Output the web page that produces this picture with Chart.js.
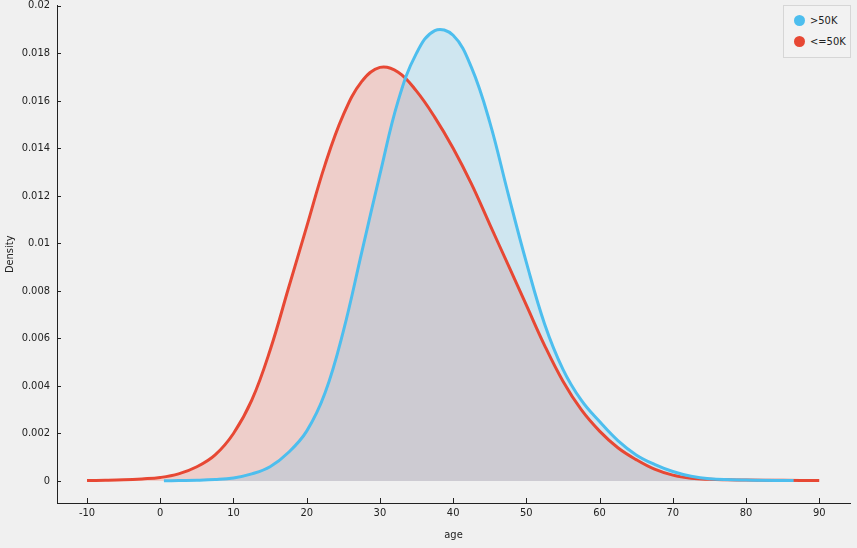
<!DOCTYPE html>
<html>
<head>
<meta charset="utf-8">
<script src="https://cdn.jsdelivr.net/npm/chart.js@4.4.1/dist/chart.umd.min.js"></script>
<style>
  body { margin: 0; background: #f0f0f0; font-family: "DejaVu Sans Condensed", "DejaVu Sans", sans-serif; }
  #wrap { position: relative; width: 857px; height: 548px; overflow: hidden; }
  #box { position: absolute; left: 0; top: -8px; width: 857px; height: 556px; }
  #legend {
    position: absolute; left: 783px; top: 5px; width: 66px; height: 51px;
    border: 1px solid #d6d6d6; background: #f2f2f2; font-size: 11px; color: #222;
  }
  .item { position: absolute; left: 10px; display: flex; align-items: center; }
  .dot { width: 11px; height: 11px; border-radius: 50%; margin-right: 5px; }
</style>
</head>
<body>
<div id="wrap">
  <div id="box"><canvas id="chart"></canvas></div>
  <div id="legend"></div>
</div>
<script>
// --- dados ---
const seriesNames = ['>50K', '<=50K'];

const blueAges = [0.5, 2.5, 5, 7.5, 10, 12.5, 15, 17.5, 20, 22.5, 25, 27.5, 30, 32.5, 35, 37.5, 40, 42.5, 45, 47.5, 50, 52.5, 55, 57.5, 60, 62.5, 65, 67.5, 70, 72.5, 75, 80, 86.5];
const blueDensity = [0.00001, 0.00002, 0.00003, 0.00006, 0.00013, 0.0003, 0.0006, 0.0012, 0.0021, 0.0037, 0.0063, 0.0096, 0.0129, 0.0160, 0.0180, 0.01895, 0.01875, 0.0174, 0.0151, 0.0121, 0.0092, 0.0066, 0.0047, 0.0034, 0.0025, 0.0017, 0.0011, 0.0007, 0.0004, 0.0002, 0.0001, 0.00004, 0.00002];

const redAges = [-10, -7.5, -5, -2.5, 0, 2.5, 5, 7.5, 10, 12.5, 15, 17.5, 20, 22.5, 25, 27.5, 30, 32.5, 35, 37.5, 40, 42.5, 45, 47.5, 50, 52.5, 55, 57.5, 60, 62.5, 65, 67.5, 70, 72.5, 75, 77.5, 80, 85, 90];
const redDensity = [0.00002, 0.00003, 0.00005, 0.00009, 0.00015, 0.0003, 0.0006, 0.0011, 0.0020, 0.0034, 0.0055, 0.0081, 0.0107, 0.0133, 0.0154, 0.0168, 0.0174, 0.0172, 0.0164, 0.0153, 0.0140, 0.0125, 0.0108, 0.0091, 0.0074, 0.0057, 0.0042, 0.0030, 0.0021, 0.0014, 0.0009, 0.0005, 0.00025, 0.00012, 0.00007, 0.00005, 0.00004, 0.00003, 0.00002];

const xTicks = [-10, 0, 10, 20, 30, 40, 50, 60, 70, 80, 90];
const yTicks = [0, 0.002, 0.004, 0.006, 0.008, 0.01, 0.012, 0.014, 0.016, 0.018, 0.02];

const colors = ['rgb(77,190,238)', 'rgb(231,72,52)'];
const fills = ['rgba(77,190,238,0.2)', 'rgba(231,72,52,0.2)'];

const pares = (xs, ys) => xs.map((x, i) => ({ x: x, y: ys[i] }));

// marcas dos eixos para dentro
const tickPlugin = {
  id: 'innerTicks',
  afterDraw(chart) {
    const { ctx, scales: { x, y }, chartArea } = chart;
    ctx.save();
    ctx.strokeStyle = '#222';
    ctx.lineWidth = 1;
    ctx.beginPath();
    x.ticks.forEach(t => {
      const px = Math.round(x.getPixelForValue(t.value)) + 0.5;
      ctx.moveTo(px, chartArea.bottom);
      ctx.lineTo(px, chartArea.bottom - 5);
    });
    y.ticks.forEach(t => {
      const py = Math.round(y.getPixelForValue(t.value)) + 0.5;
      ctx.moveTo(chartArea.left, py);
      ctx.lineTo(chartArea.left + 4, py);
    });
    ctx.stroke();
    ctx.restore();
  }
};

const fonte = { family: '"DejaVu Sans Condensed", "DejaVu Sans", sans-serif', size: 11 };
const semGrade = { display: false, drawTicks: false, tickLength: 0 };

new Chart(document.getElementById('chart'), {
  type: 'line',
  data: {
    datasets: [
      { label: seriesNames[0], data: pares(blueAges, blueDensity), borderColor: colors[0], backgroundColor: fills[0], fill: 'origin' },
      { label: seriesNames[1], data: pares(redAges, redDensity), borderColor: colors[1], backgroundColor: fills[1], fill: 'origin' }
    ]
  },
  options: {
    responsive: true,
    maintainAspectRatio: false,
    animation: false,
    layout: { padding: { top: 0, right: 7, left: 0, bottom: 0 } },
    elements: {
      point: { radius: 0 },
      line: { borderWidth: 3, tension: 0.4 }
    },
    plugins: {
      legend: { display: false },
      tooltip: { enabled: false },
      filler: { drawTime: 'beforeDatasetsDraw' } // áreas por baixo das duas linhas
    },
    scales: {
      x: {
        type: 'linear',
        min: -14.1,
        max: 94.2,
        afterBuildTicks: s => { s.ticks = xTicks.map(v => ({ value: v })); },
        afterFit: s => { s.height = 45; },
        grid: semGrade,
        border: { color: '#222', width: 1 },
        ticks: { color: '#222', font: fonte, padding: 4, maxRotation: 0 },
        title: { display: true, text: 'age', color: '#222', font: fonte, padding: { top: 0, bottom: 6 } }
      },
      y: {
        type: 'linear',
        min: -0.000924,
        max: 0.02,
        afterBuildTicks: s => { s.ticks = yTicks.map(v => ({ value: v })); },
        afterFit: s => { s.width = 57; },
        grid: semGrade,
        border: { color: '#222', width: 1 },
        ticks: { color: '#222', font: fonte, padding: 7, callback: v => String(Number(v.toFixed(3))) },
        title: { display: true, text: 'Density', color: '#222', font: fonte, padding: { top: 4, bottom: 0 } }
      }
    }
  },
  plugins: [tickPlugin]
});

// legenda à parte, com caixa
const legend = document.getElementById('legend');
seriesNames.forEach((nome, i) => {
  const div = document.createElement('div');
  div.className = 'item';
  div.style.top = (i === 0 ? 8 : 29) + 'px';
  div.innerHTML = `<span class="dot" style="background:${colors[i]}"></span><span>${nome.replace('<', '&lt;').replace('>', '&gt;')}</span>`;
  legend.appendChild(div);
});
</script>
</body>
</html>
